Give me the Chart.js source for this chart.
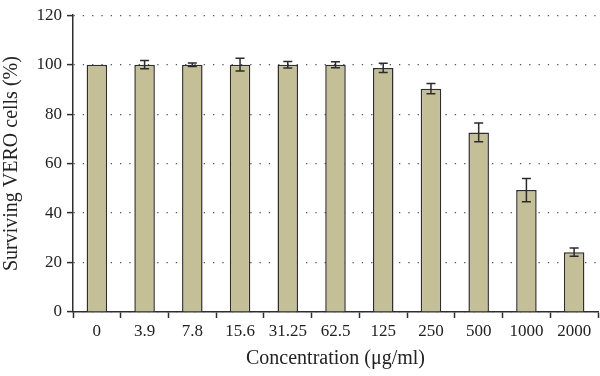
<!DOCTYPE html>
<html>
<head>
<meta charset="utf-8">
<script src="https://cdn.jsdelivr.net/npm/chart.js@4"></script>
<style>
  html, body { margin: 0; padding: 0; background: #fff; }
  #wrap { width: 600px; height: 376px; }
</style>
</head>
<body>
<div id="wrap"><canvas id="vero-chart"></canvas></div>
<script>
// Cell viability data
const concentrations = ["0", "3.9", "7.8", "15.6", "31.25", "62.5", "125", "250", "500", "1000", "2000"];
const survival = [100, 100, 100, 100, 100, 100, 98.7, 90.3, 72.6, 49.3, 24.2];
const errors = [0, 1.7, 0.7, 2.6, 1.3, 1.2, 1.9, 2.1, 3.8, 4.7, 1.7];
const yTicks = [0, 20, 40, 60, 80, 100, 120];

const serif = "'Liberation Serif', 'DejaVu Serif', serif";

const errorBars = {
  id: "errorBars",
  afterDatasetsDraw(chart) {
    const { ctx, scales } = chart;
    const meta = chart.getDatasetMeta(0);
    ctx.save();
    ctx.strokeStyle = "#2b2b2b";
    ctx.lineWidth = 1.5;
    meta.data.forEach((bar, i) => {
      const err = errors[i];
      if (!err) return;
      const x = bar.x;
      const yTop = scales.y.getPixelForValue(survival[i] + err);
      const yBot = scales.y.getPixelForValue(survival[i] - err);
      ctx.beginPath();
      ctx.moveTo(x, yTop);
      ctx.lineTo(x, yBot);
      ctx.moveTo(x - 4.5, yTop);
      ctx.lineTo(x + 4.5, yTop);
      ctx.moveTo(x - 4.5, yBot);
      ctx.lineTo(x + 4.5, yBot);
      ctx.stroke();
    });
    ctx.restore();
  },
};

new Chart(document.getElementById("vero-chart"), {
  type: "bar",
  data: {
    labels: concentrations,
    datasets: [
      {
        data: survival,
        backgroundColor: "#c5bf98",
        borderColor: "#2e2e2e",
        borderWidth: 1.5,
        barPercentage: 0.43,
        categoryPercentage: 1,
      },
    ],
  },
  options: {
    responsive: true,
    maintainAspectRatio: false,
    animation: false,
    layout: { padding: { top: 10, right: 2, left: 0, bottom: 0 } },
    plugins: {
      legend: { display: false },
      tooltip: { enabled: false },
    },
    scales: {
      x: {
        offset: true,
        afterFit(axis) {
          axis.height = 64;
        },
        grid: {
          offset: true,
          drawOnChartArea: false,
          drawTicks: true,
          tickLength: 6,
          tickColor: "#2e2e2e",
          tickWidth: 1.5,
        },
        border: { color: "#2e2e2e", width: 1.5 },
        ticks: {
          color: "#222",
          font: { family: serif, size: 17 },
          padding: 3,
          maxRotation: 0,
        },
        title: {
          display: true,
          text: "Concentration (μg/ml)",
          color: "#222",
          font: { family: serif, size: 20 },
          padding: { top: 4, bottom: 5 },
        },
      },
      y: {
        min: 0,
        max: 120,
        afterBuildTicks(axis) {
          axis.ticks = yTicks.map((v) => ({ value: v }));
        },
        afterFit(axis) {
          axis.width = 73;
        },
        grid: {
          color: "#555",
          lineWidth: 1.2,
          drawTicks: true,
          tickLength: 6,
          tickColor: "#2e2e2e",
          tickWidth: 1.5,
          tickBorderDash: [],
        },
        border: { color: "#2e2e2e", width: 1.5, dash: [1.3, 8] },
        ticks: {
          color: "#222",
          font: { family: serif, size: 17 },
          padding: 5,
        },
        title: {
          display: true,
          text: "Surviving VERO cells (%)",
          color: "#222",
          font: { family: serif, size: 20 },
          padding: { top: 0, bottom: 2 },
        },
      },
    },
  },
  plugins: [errorBars],
});
</script>
</body>
</html>
